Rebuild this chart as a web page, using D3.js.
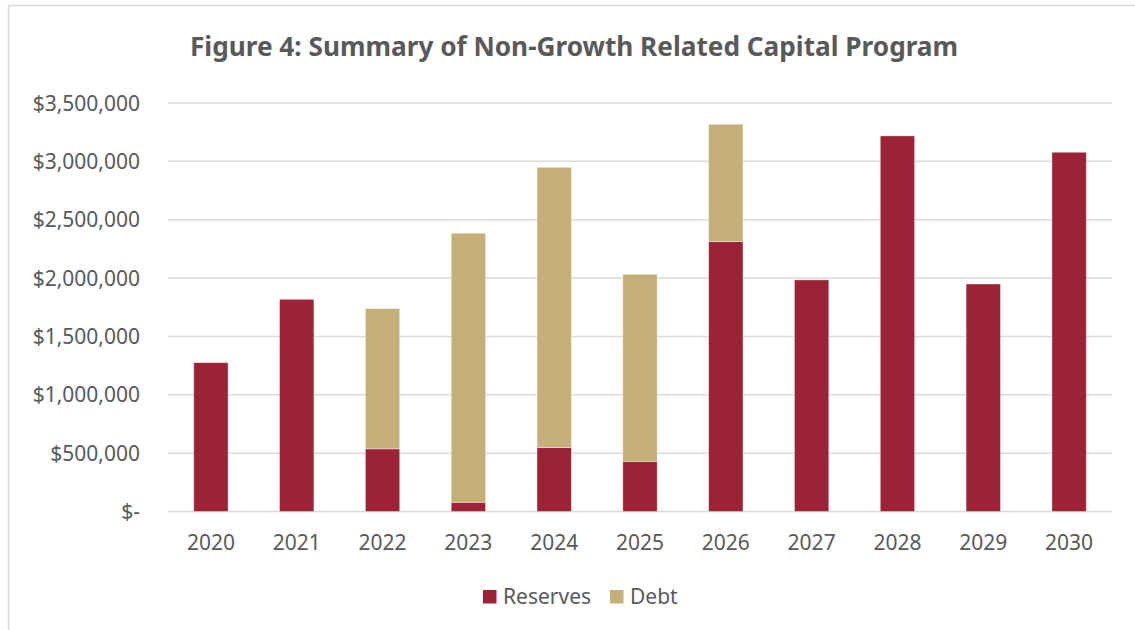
<!DOCTYPE html>
<html lang="en">
<head>
    <meta charset="UTF-8">
    <title>Non-Growth Related Capital Program</title>
    <script src="https://d3js.org/d3.v7.min.js"></script>
    <style>
        body { margin: 0; background: #fff; }
        text { font-family: "Noto Sans", "Open Sans", sans-serif; fill: #595959; }
    </style>
</head>
<body>
<svg id="main" width="1135" height="630"></svg>
<script>
    // chart data
    let years = ['2020','2021','2022','2023','2024','2025','2026','2027','2028','2029','2030'];
    let reserves = [1275000, 1818000, 537000, 79000, 547000, 430000, 2312000, 1984000, 3218000, 1949000, 3078000];
    let debt = [0, 0, 1201000, 2305000, 2402000, 1603000, 1006000, 0, 0, 0, 0];
    let seriesNames = ['Reserves', 'Debt'];
    let yTicks = [0, 500000, 1000000, 1500000, 2000000, 2500000, 3000000, 3500000];
    let colors = ['#9c2235', '#c4af78'];

    let svg = d3.select('svg#main');
    let plot = {left: 168, right: 1112, top: 103, bottom: 511.5};

    // outer border (top and left edges visible)
    svg.append('line').attr('x1', 8.5).attr('x2', 1135).attr('y1', 5.5).attr('y2', 5.5)
        .attr('stroke', '#d9d9d9').attr('stroke-width', 1.5);
    svg.append('line').attr('x1', 8.5).attr('x2', 8.5).attr('y1', 5.5).attr('y2', 630)
        .attr('stroke', '#d9d9d9').attr('stroke-width', 1.5);

    svg.append('text')
        .attr('x', 574).attr('y', 56)
        .attr('text-anchor', 'middle')
        .style('font-size', '26.2px').style('font-weight', 'bold')
        .text('Figure 4: Summary of Non-Growth Related Capital Program');

    let data = years.map(function (y, i) {
        return {year: y, Reserves: reserves[i], Debt: debt[i]};
    });
    let stackSeries = d3.stack().keys(seriesNames)(data);

    let xScale = d3.scaleBand().domain(years)
        .range([plot.left, plot.right])
        .paddingInner(0.6).paddingOuter(0.3);
    let yScale = d3.scaleLinear().domain([0, 3500000]).range([plot.bottom, plot.top]);

    // gridlines
    svg.append('g').selectAll('line')
        .data(yTicks)
        .enter()
        .append('line')
        .attr('x1', plot.left).attr('x2', plot.right)
        .attr('y1', function (d) { return yScale(d); })
        .attr('y2', function (d) { return yScale(d); })
        .attr('stroke', '#d9d9d9').attr('stroke-width', 1.5);

    let fmt = d3.format('$,');
    svg.append('g').selectAll('text')
        .data(yTicks)
        .enter()
        .append('text')
        .attr('x', 140)
        .attr('y', function (d) { return yScale(d) + 7.5; })
        .attr('text-anchor', 'end')
        .style('font-size', '21px')
        .text(function (d) { return d === 0 ? '$-' : fmt(d); });

    svg.selectAll('g.series')
        .data(stackSeries)
        .enter()
        .append('g')
        .attr('class', 'series')
        .style('fill', function (d, i) { return colors[i]; })
        .selectAll('rect')
        .data(function (d) { return d.filter(function (p) { return p[1] - p[0] > 0; }); })
        .enter()
        .append('rect')
        .attr('x', function (d) { return xScale(d.data.year); })
        .attr('width', xScale.bandwidth())
        .attr('y', function (d) { return yScale(d[1]); })
        .attr('height', function (d) { return yScale(d[0]) - yScale(d[1]); })
        .attr('stroke', '#ffffff').attr('stroke-opacity', 0.5).attr('stroke-width', 0.75);

    svg.append('g').selectAll('text')
        .data(years)
        .enter()
        .append('text')
        .attr('x', function (d) { return xScale(d) + xScale.bandwidth() / 2; })
        .attr('y', 550)
        .attr('text-anchor', 'middle')
        .style('font-size', '21px')
        .text(function (d) { return d; });

    // legend
    let legendX = [483, 610];
    let legend = svg.append('g').selectAll('g')
        .data(seriesNames)
        .enter()
        .append('g')
        .attr('transform', function (d, i) { return 'translate(' + legendX[i] + ',590)'; });
    legend.append('rect').attr('width', 13.5).attr('height', 13.5)
        .style('fill', function (d, i) { return colors[i]; });
    legend.append('text').attr('x', 20).attr('y', 14)
        .style('font-size', '21px')
        .text(function (d) { return d; });
</script>
</body>
</html>
